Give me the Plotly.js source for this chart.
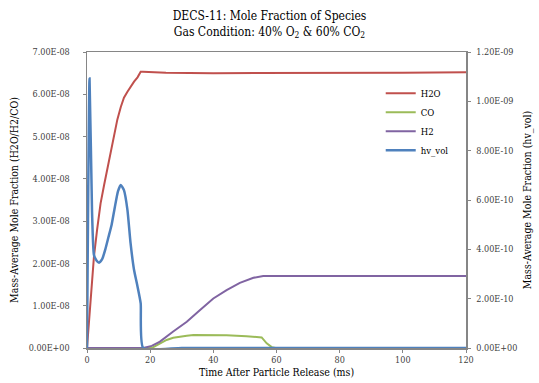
<!DOCTYPE html>
<html><head><meta charset="utf-8">
<script src="https://cdn.plot.ly/plotly-3.0.1.min.js"></script>
<style>html,body{margin:0;padding:0;background:#fff}#chart{width:539px;height:383px}</style>
</head><body><div id="chart"></div>
<script>
// Time (ms) and values
const tH2O = [0, 1, 2.2, 3.2, 4.3, 5.4, 6.4, 7.5, 8.6, 9.6, 10.7, 11.7, 12.8, 13.8, 14.9, 16, 17, 17.7, 25, 40, 60, 80, 100, 120];
const yH2O = [0, 1.05e-8, 2.16e-8, 2.8e-8, 3.42e-8, 3.85e-8, 4.2e-8, 4.6e-8, 5.05e-8, 5.4e-8, 5.7e-8, 5.92e-8, 6.06e-8, 6.18e-8, 6.3e-8, 6.4e-8, 6.53e-8, 6.53e-8, 6.51e-8, 6.5e-8, 6.5e-8, 6.5e-8, 6.51e-8, 6.52e-8];

const tCO = [0, 19, 21, 23, 25.2, 27.3, 29.4, 31.6, 33.7, 37.9, 44.2, 50.5, 55.3, 56.9, 58.5, 59.7, 120];
const yCO = [0, 0, 0.02e-8, 0.1e-8, 0.19e-8, 0.24e-8, 0.27e-8, 0.29e-8, 0.31e-8, 0.31e-8, 0.3e-8, 0.28e-8, 0.25e-8, 0.11e-8, 0.02e-8, 0, 0];

const tH2 = [0, 17.8, 20.5, 23.1, 27.3, 31.6, 35.8, 40, 44.2, 48.4, 52.7, 55.8, 80, 100, 120];
const yH2 = [0, 0, 0.05e-8, 0.15e-8, 0.39e-8, 0.62e-8, 0.9e-8, 1.17e-8, 1.37e-8, 1.54e-8, 1.66e-8, 1.7e-8, 1.7e-8, 1.7e-8, 1.7e-8];

const tHv = [0, 0.8, 1.6, 2.2, 3.0, 3.8, 4.8, 5.8, 6.8, 7.8, 8.8, 9.8, 10.7, 11.7, 12.8, 13.8, 14.9, 15.9, 17, 17.8, 30, 60, 90, 120];
const yHv = [0, 10.93e-10, 5.5e-10, 3.77e-10, 3.55e-10, 3.46e-10, 3.6e-10, 4.0e-10, 4.5e-10, 5.0e-10, 5.7e-10, 6.35e-10, 6.61e-10, 6.4e-10, 5.6e-10, 4.24e-10, 3.16e-10, 2.55e-10, 1.81e-10, 0, 0, 0, 0, 0];

const leftTicks = [0, 1e-8, 2e-8, 3e-8, 4e-8, 5e-8, 6e-8, 7e-8];
const leftLabels = ["0.00E+00","1.00E-08","2.00E-08","3.00E-08","4.00E-08","5.00E-08","6.00E-08","7.00E-08"];
const rightTicks = [0, 2e-10, 4e-10, 6e-10, 8e-10, 10e-10, 12e-10];
const rightLabels = ["0.00E+00","2.00E-10","4.00E-10","6.00E-10","8.00E-10","1.00E-09","1.20E-09"];
const xTicks = [0, 20, 40, 60, 80, 100, 120];

const serif = "DejaVu Serif Condensed, DejaVu Serif";
const tickFont = {family: serif, size: 9, color: "#404040"};

const traces = [
  {x: tH2O, y: yH2O, name: "H2O", mode: "lines", line: {color: "#C0504D", width: 2}},
  {x: tCO, y: yCO, name: "CO", mode: "lines", line: {color: "#9BBB59", width: 2}},
  {x: tH2, y: yH2, name: "H2", mode: "lines", line: {color: "#8064A2", width: 2}},
  {x: tHv, y: yHv, name: "hv_vol", mode: "lines", yaxis: "y2", line: {color: "#4F81BD", width: 2.5, shape: "spline", smoothing: 0.5}}
];

const layout = {
  width: 539, height: 383,
  margin: {l: 87, r: 73, t: 52, b: 35},
  paper_bgcolor: "#fff", plot_bgcolor: "#fff",
  font: {family: serif},
  title: {text: "DECS-11: Mole Fraction of Species<br>Gas Condition: 40% O<sub>2</sub> &amp; 60% CO<sub>2</sub>",
          font: {family: serif, size: 12, color: "#000"}, x: 0.5, xanchor: "center", y: 0.948, yanchor: "top"},
  showlegend: true,
  legend: {x: 0.775, y: 0.91, xanchor: "left", yanchor: "top", bgcolor: "rgba(0,0,0,0)",
           font: {family: serif, size: 9.5, color: "#000"}, tracegroupgap: 0, itemwidth: 30},
  xaxis: {range: [0, 120], tickvals: xTicks, ticktext: xTicks.map(String), showgrid: false, zeroline: false,
          showline: true, linecolor: "#868686", linewidth: 1.5, mirror: true, ticks: "outside", ticklen: 3, tickcolor: "#868686",
          tickfont: tickFont,
          title: {text: "Time After Particle Release (ms)", font: {family: serif, size: 10.5, color: "#000"}, standoff: 4}},
  yaxis: {range: [0, 7e-8], tickvals: leftTicks, ticktext: leftLabels, showgrid: false, zeroline: false,
          showline: true, linecolor: "#868686", linewidth: 1.5, ticks: "outside", ticklen: 3, tickcolor: "#868686",
          ticklabelstandoff: 11, tickfont: tickFont,
          title: {text: "Mass-Average Mole Fraction (H2O/H2/CO)", font: {family: serif, size: 10.5, color: "#000"}, standoff: 8}},
  yaxis2: {range: [0, 12e-10], tickvals: rightTicks, ticktext: rightLabels, overlaying: "y", side: "right",
           showgrid: false, zeroline: false, showline: true, linecolor: "#868686", linewidth: 1.5,
           ticks: "outside", ticklen: 3, tickcolor: "#868686", ticklabelstandoff: 4, tickfont: tickFont,
           title: {text: "Mass-Average Mole Fraction (hv_vol)", font: {family: serif, size: 10.5, color: "#000"}, standoff: 7}}
};

Plotly.newPlot("chart", traces, layout, {displayModeBar: false, staticPlot: true});
</script></body></html>
